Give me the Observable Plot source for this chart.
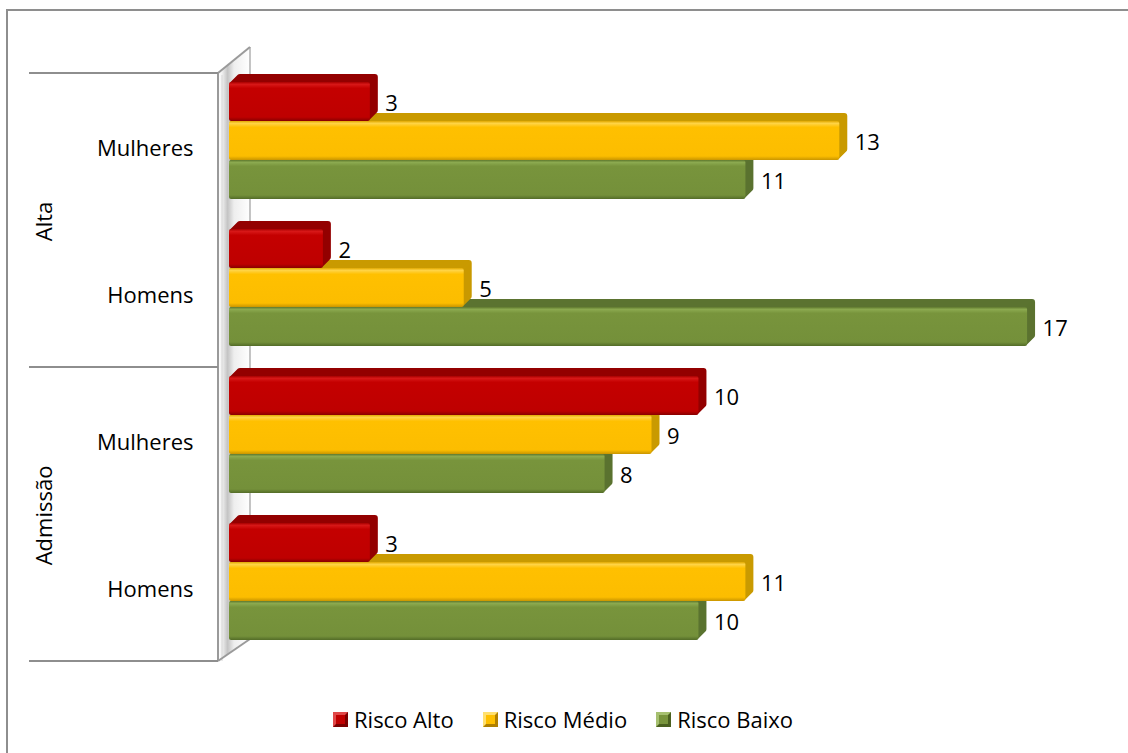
<!DOCTYPE html>
<html>
<head>
<meta charset="utf-8">
<script src="https://cdn.jsdelivr.net/npm/d3@7"></script>
<script src="https://cdn.jsdelivr.net/npm/@observablehq/plot@0.6"></script>
<style>
  body { margin: 0; background: #fff; font-family: "Open Sans", Lato, sans-serif; }
  #wrap { position: relative; width: 1128px; height: 753px; overflow: hidden; background: #fff; }
  #border { position: absolute; left: 6px; top: 9px; width: 1300px; height: 900px; border-left: 2px solid #8e8e8e; border-top: 2px solid #8e8e8e; }
  #chart { position: absolute; left: 0; top: 0; }
  #legend { position: absolute; top: 704px; left: 333px; display: flex; align-items: center; font-size: 22px; color: #000; white-space: nowrap; }
  .item { display: flex; align-items: center; margin-right: 29px; }
  .sw { width: 9px; height: 9px; border-style: solid; border-width: 3px; margin-right: 6px; }
</style>
</head>
<body>
<svg width="0" height="0" style="position:absolute">
  <defs>
    <linearGradient id="gRed" x1="0" y1="0" x2="0" y2="1">
      <stop offset="0" stop-color="#a80000"/><stop offset="0.06" stop-color="#d81818"/>
      <stop offset="0.16" stop-color="#c40000"/><stop offset="0.9" stop-color="#be0000"/>
      <stop offset="1" stop-color="#880000"/>
    </linearGradient>
    <linearGradient id="gYel" x1="0" y1="0" x2="0" y2="1">
      <stop offset="0" stop-color="#e0a800"/><stop offset="0.06" stop-color="#ffd447"/>
      <stop offset="0.16" stop-color="#ffc000"/><stop offset="0.9" stop-color="#fcbd00"/>
      <stop offset="1" stop-color="#c99500"/>
    </linearGradient>
    <linearGradient id="gGrn" x1="0" y1="0" x2="0" y2="1">
      <stop offset="0" stop-color="#5e782d"/><stop offset="0.06" stop-color="#8caa50"/>
      <stop offset="0.16" stop-color="#78943c"/><stop offset="0.9" stop-color="#74903a"/>
      <stop offset="1" stop-color="#536c28"/>
    </linearGradient>
    <linearGradient id="gWall" x1="0" y1="0" x2="1" y2="0">
      <stop offset="0" stop-color="#ffffff"/><stop offset="0.12" stop-color="#f2f2f2"/>
      <stop offset="0.3" stop-color="#c4c4c4"/><stop offset="0.5" stop-color="#eeeeee"/>
      <stop offset="1" stop-color="#ffffff"/>
    </linearGradient>
  </defs>
</svg>
<div id="wrap">
  <div id="border"></div>
  <div id="chart"></div>
  <div id="legend"></div>
</div>
<script>
// ---- data ----
const groups = ["Alta", "Alta", "Admissão", "Admissão"];
const sexes = ["Mulheres", "Homens", "Mulheres", "Homens"];
const risks = ["Risco Alto", "Risco Médio", "Risco Baixo"];
const riscoAlto = [3, 2, 10, 3];
const riscoMedio = [13, 5, 9, 11];
const riscoBaixo = [11, 17, 8, 10];

// ---- styles ----
const look = {
  "Risco Alto":  {front: "url(#gRed)", side: "#930000", sw: "#c00000", hi: "#e04848", lo: "#7a0000"},
  "Risco Médio": {front: "url(#gYel)", side: "#c99a00", sw: "#ffc000", hi: "#ffe070", lo: "#b08000"},
  "Risco Baixo": {front: "url(#gGrn)", side: "#5b7330", sw: "#78943c", hi: "#a6c070", lo: "#4a6020"}
};

const rows = groups.map((g, i) => `${g} · ${sexes[i]}`);
const series = [riscoAlto, riscoMedio, riscoBaixo];
const table = rows.flatMap((row, i) => risks.map((risk, j) => ({row, group: groups[i], sex: sexes[i], risk, value: series[j][i]})));

// decorative 3D wall + group separators, positioned from the scales
let facetCall = 0;
function decor(index, scales, values, dim) {
  const ns = "http://www.w3.org/2000/svg";
  const g = document.createElementNS(ns, "g");
  const x0 = scales.x(0);
  const xo = x0 - 11, xb = x0 + 21, xs = x0 - 200;
  const add = (tag, attrs) => { const e = document.createElementNS(ns, tag); for (const k in attrs) e.setAttribute(k, attrs[k]); g.appendChild(e); };
  function piece(top, bottom, first, last, sepTop) {
    const t2 = first ? top - 26 : top, b2 = last ? bottom - 22 : bottom;
    add("polygon", {points: `${xo},${top} ${xb},${t2} ${xb},${b2} ${xo},${bottom}`, fill: "url(#gWall)"});
    add("line", {x1: xo + 4, x2: xo + 4, y1: top + (first ? 2 : 0), y2: bottom, stroke: "#d6d6d6", "stroke-width": 1});
    add("line", {x1: xo, x2: xo, y1: top, y2: bottom, stroke: "#9a9a9a", "stroke-width": 2});
    add("line", {x1: xb, x2: xb, y1: t2, y2: b2, stroke: "#b0b0b0", "stroke-width": 1.5});
    if (first) add("line", {x1: xo, y1: top, x2: xb, y2: t2, stroke: "#9a9a9a", "stroke-width": 2});
    if (last) add("line", {x1: xo, y1: bottom, x2: xb, y2: b2, stroke: "#9a9a9a", "stroke-width": 2});
    if (sepTop) add("line", {x1: xs, x2: xo, y1: top, y2: top, stroke: "#8e8e8e", "stroke-width": 2});
    if (last) add("line", {x1: xs, x2: xo, y1: bottom, y2: bottom, stroke: "#8e8e8e", "stroke-width": 2});
  }
  const top = dim.marginTop, bottom = dim.height - dim.marginBottom;
  if (bottom - top > 300 && scales.fy) {
    const fy = scales.fy, bw = fy.bandwidth();
    rows.forEach((r, i) => piece(fy(r), fy(r) + bw, i === 0, i === rows.length - 1, sexes[i] === "Mulheres"));
  } else {
    const i = facetCall++ % rows.length;
    piece(top, bottom, i === 0, i === rows.length - 1, sexes[i] === "Mulheres");
  }
  return g;
}

const marks = [decor];
for (const risk of [...risks].reverse()) {
  const d = table.filter(t => t.risk === risk);
  for (let k = 8; k >= 1; k--) {
    marks.push(Plot.barX(d, {x: "value", y: "risk", fy: "row", fill: look[risk].side, dx: k, dy: -k, rx: 3}));
  }
  marks.push(Plot.barX(d, {x: "value", y: "risk", fy: "row", fill: look[risk].front, rx: 2}));
}
marks.push(Plot.text(table, {x: "value", y: "risk", fy: "row", text: d => String(d.value), textAnchor: "start", dx: 15, dy: 2, fill: "#000"}));
marks.push(Plot.axisFy({anchor: "left", tickSize: 0, tickPadding: 36, label: null, dy: 2, tickFormat: r => sexes[rows.indexOf(r)]}));
marks.push(Plot.text(
  rows.map((r, i) => ({row: r, label: groups[i], first: i === 0 || groups[i] !== groups[i - 1]})).filter(d => d.first),
  {fy: "row", text: "label", frameAnchor: "bottom-left", rotate: -90, dx: -178, dy: 1, textAnchor: "middle", fill: "#000"}
));

const plot = Plot.plot({
  width: 1128,
  height: 690,
  marginTop: 72,
  marginBottom: 28,
  marginLeft: 229,
  marginRight: 54,
  x: {domain: [0, 18], axis: null},
  y: {domain: risks, paddingInner: 0, paddingOuter: 0.357, align: 0.3, axis: null},
  fy: {domain: rows, padding: 0, label: null},
  style: {fontFamily: "'Open Sans', Lato, sans-serif", fontSize: "22px", color: "#000", background: "transparent", overflow: "visible"},
  marks
});
document.getElementById("chart").appendChild(plot);

// legend
const legend = document.getElementById("legend");
for (const r of risks) {
  const it = document.createElement("div");
  it.className = "item";
  const sw = document.createElement("span");
  sw.className = "sw";
  const L = look[r];
  sw.style.background = L.sw;
  sw.style.borderColor = `${L.hi} ${L.lo} ${L.lo} ${L.hi}`;
  const tx = document.createElement("span");
  tx.textContent = r;
  it.appendChild(sw); it.appendChild(tx);
  legend.appendChild(it);
}
</script>
</body>
</html>
